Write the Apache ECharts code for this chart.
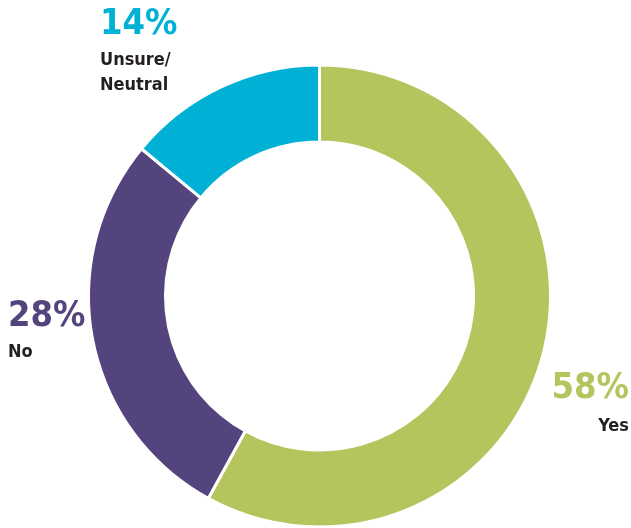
<!DOCTYPE html>
<html>
<head>
<meta charset="utf-8">
<script src="https://cdn.jsdelivr.net/npm/echarts@6/dist/echarts.min.js"></script>
<style>
html, body { margin: 0; padding: 0; background: #fff; }
#chart { width: 631px; height: 528px; }
</style>
</head>
<body>
<div id="chart"></div>
<script>
// answers, clockwise from 12 o'clock
var categories = ['Yes', 'No', 'Unsure/\nNeutral'];
var shares = [58, 28, 14];
var colors = ['#B5C45D', '#54447E', '#00B1D5'];

// where each label block sits (top-left / top-right anchor)
var labelSpots = [
    { x: 629, y: 364, align: 'right' },
    { x: 8, y: 294, align: 'left' },
    { x: 100, y: 2, align: 'left' }
];

var myChart = echarts.init(document.getElementById('chart'));
var font = '"DejaVu Sans Condensed", "Liberation Sans Narrow", sans-serif';

var option = {
    animation: false,
    series: [{
        type: 'pie',
        center: [319.5, 296],
        radius: [154, 231],
        startAngle: 90,
        clockwise: true,
        itemStyle: {
            borderColor: '#fff',
            borderWidth: 3
        },
        label: {
            show: true,
            position: 'inside',
            overflow: 'none',
            formatter: function (p) {
                return '{p' + p.dataIndex + '|' + p.value + '%}\n{n|' + p.name.replace('\n', '}\n{n|') + '}';
            },
            rich: {
                p0: { fontFamily: font, fontWeight: 'bold', fontSize: 36, lineHeight: 50, color: colors[0] },
                p1: { fontFamily: font, fontWeight: 'bold', fontSize: 36, lineHeight: 46, color: colors[1] },
                p2: { fontFamily: font, fontWeight: 'bold', fontSize: 36, lineHeight: 46, color: colors[2] },
                n: { fontFamily: font, fontWeight: 'bold', fontSize: 18, lineHeight: 25, color: '#231F20' }
            }
        },
        labelLine: { show: false },
        labelLayout: function (params) {
            var s = labelSpots[params.dataIndex];
            return { x: s.x, y: s.y, align: s.align, verticalAlign: 'top', moveOverlap: false };
        },
        data: categories.map(function (c, i) {
            return { name: c, value: shares[i], itemStyle: { color: colors[i] } };
        })
    }]
};

myChart.setOption(option);
</script>
</body>
</html>
